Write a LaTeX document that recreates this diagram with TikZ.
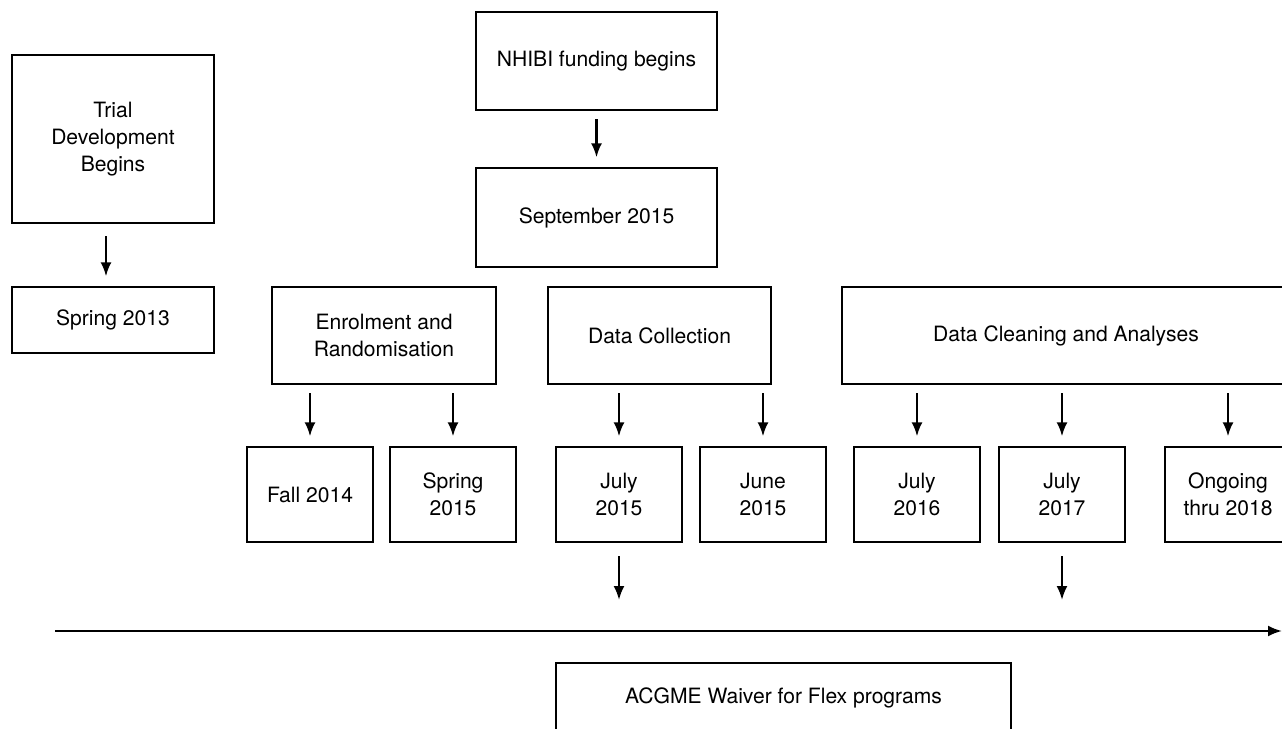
\documentclass[tikz,border=0pt]{standalone}
\usepackage{fontspec}
\setmainfont{TeX Gyre Heros}
\usetikzlibrary{arrows.meta, positioning, calc}

\begin{document}
\begin{tikzpicture}[x=0.02cm, y=-0.02cm, font=\fontsize{12}{15.2}\selectfont,
    box/.style={draw, line width=1.3pt, align=center, inner sep=2pt},
    small/.style={box, minimum width=2.52cm, minimum height=1.9cm},
    arrow/.style={-{Latex[length=2.8mm, width=2.2mm]}, line width=1.3pt, shorten <=0.16cm, shorten >=0.19cm}]
    \useasboundingbox (0,0) rectangle (1282,729);

    % left column
    \node[box, minimum width=4.04cm, minimum height=3.36cm] (trial) at (113,139) {Trial\\Development\\Begins};
    \node[box, minimum width=4.04cm, minimum height=1.32cm] (spr13) at (113,320) {Spring 2013};

    % funding
    \node[box, minimum width=4.82cm, minimum height=1.96cm] (nhibi) at (596.5,61) {NHIBI funding begins};
    \node[box, minimum width=4.82cm, minimum height=1.98cm] (sep15) at (596.5,217.5) {September 2015};

    % phases
    \node[box, minimum width=4.48cm, minimum height=1.94cm] (enrol) at (384,335.5) {Enrolment and\\Randomisation};
    \node[box, minimum width=4.46cm, minimum height=1.94cm] (collect) at (659.5,335.5) {Data Collection};
    \node[box, minimum width=8.96cm, minimum height=1.94cm] (clean) at (1066,335.5) {Data Cleaning and Analyses};

    % dates
    \node[small] (fall14) at (310,494.5) {Fall 2014};
    \node[small] (spr15) at (453,494.5) {Spring\\2015};
    \node[small] (jul15) at (619,494.5) {July\\2015};
    \node[small] (jun15) at (763,494.5) {June\\2015};
    \node[small] (jul16) at (917,494.5) {July\\2016};
    \node[small] (jul17) at (1062,494.5) {July\\2017};
    \node[small] (ongoing) at (1228,494.5) {Ongoing\\thru 2018};

    % timeline
    \coordinate (tstart) at (55,631);
    \coordinate (tend) at (1282,631);
    \draw[-{Latex[length=2.8mm, width=2.2mm]}, line width=1.3pt] (tstart) -- (tend);

    \node[box, minimum width=9.1cm, minimum height=1.4cm] (acgme) at (783.5,698) {ACGME Waiver for Flex programs};

    \draw[arrow, shorten <=0.24cm] ([xshift=-0.14cm]trial.south) -- ([xshift=-0.14cm]spr13.north);
    \draw[arrow] (nhibi) -- (sep15);
    \foreach \d in {fall14, spr15} \draw[arrow] (enrol.south -| \d) -- (\d.north);
    \foreach \d in {jul15, jun15} \draw[arrow] (collect.south -| \d) -- (\d.north);
    \foreach \d in {jul16, jul17, ongoing} \draw[arrow] (clean.south -| \d) -- (\d.north);
    \foreach \d in {jul15, jul17} \draw[arrow, shorten <=0.26cm, shorten >=0.62cm] (\d.south) -- (\d.south |- tstart);
\end{tikzpicture}
\end{document}
